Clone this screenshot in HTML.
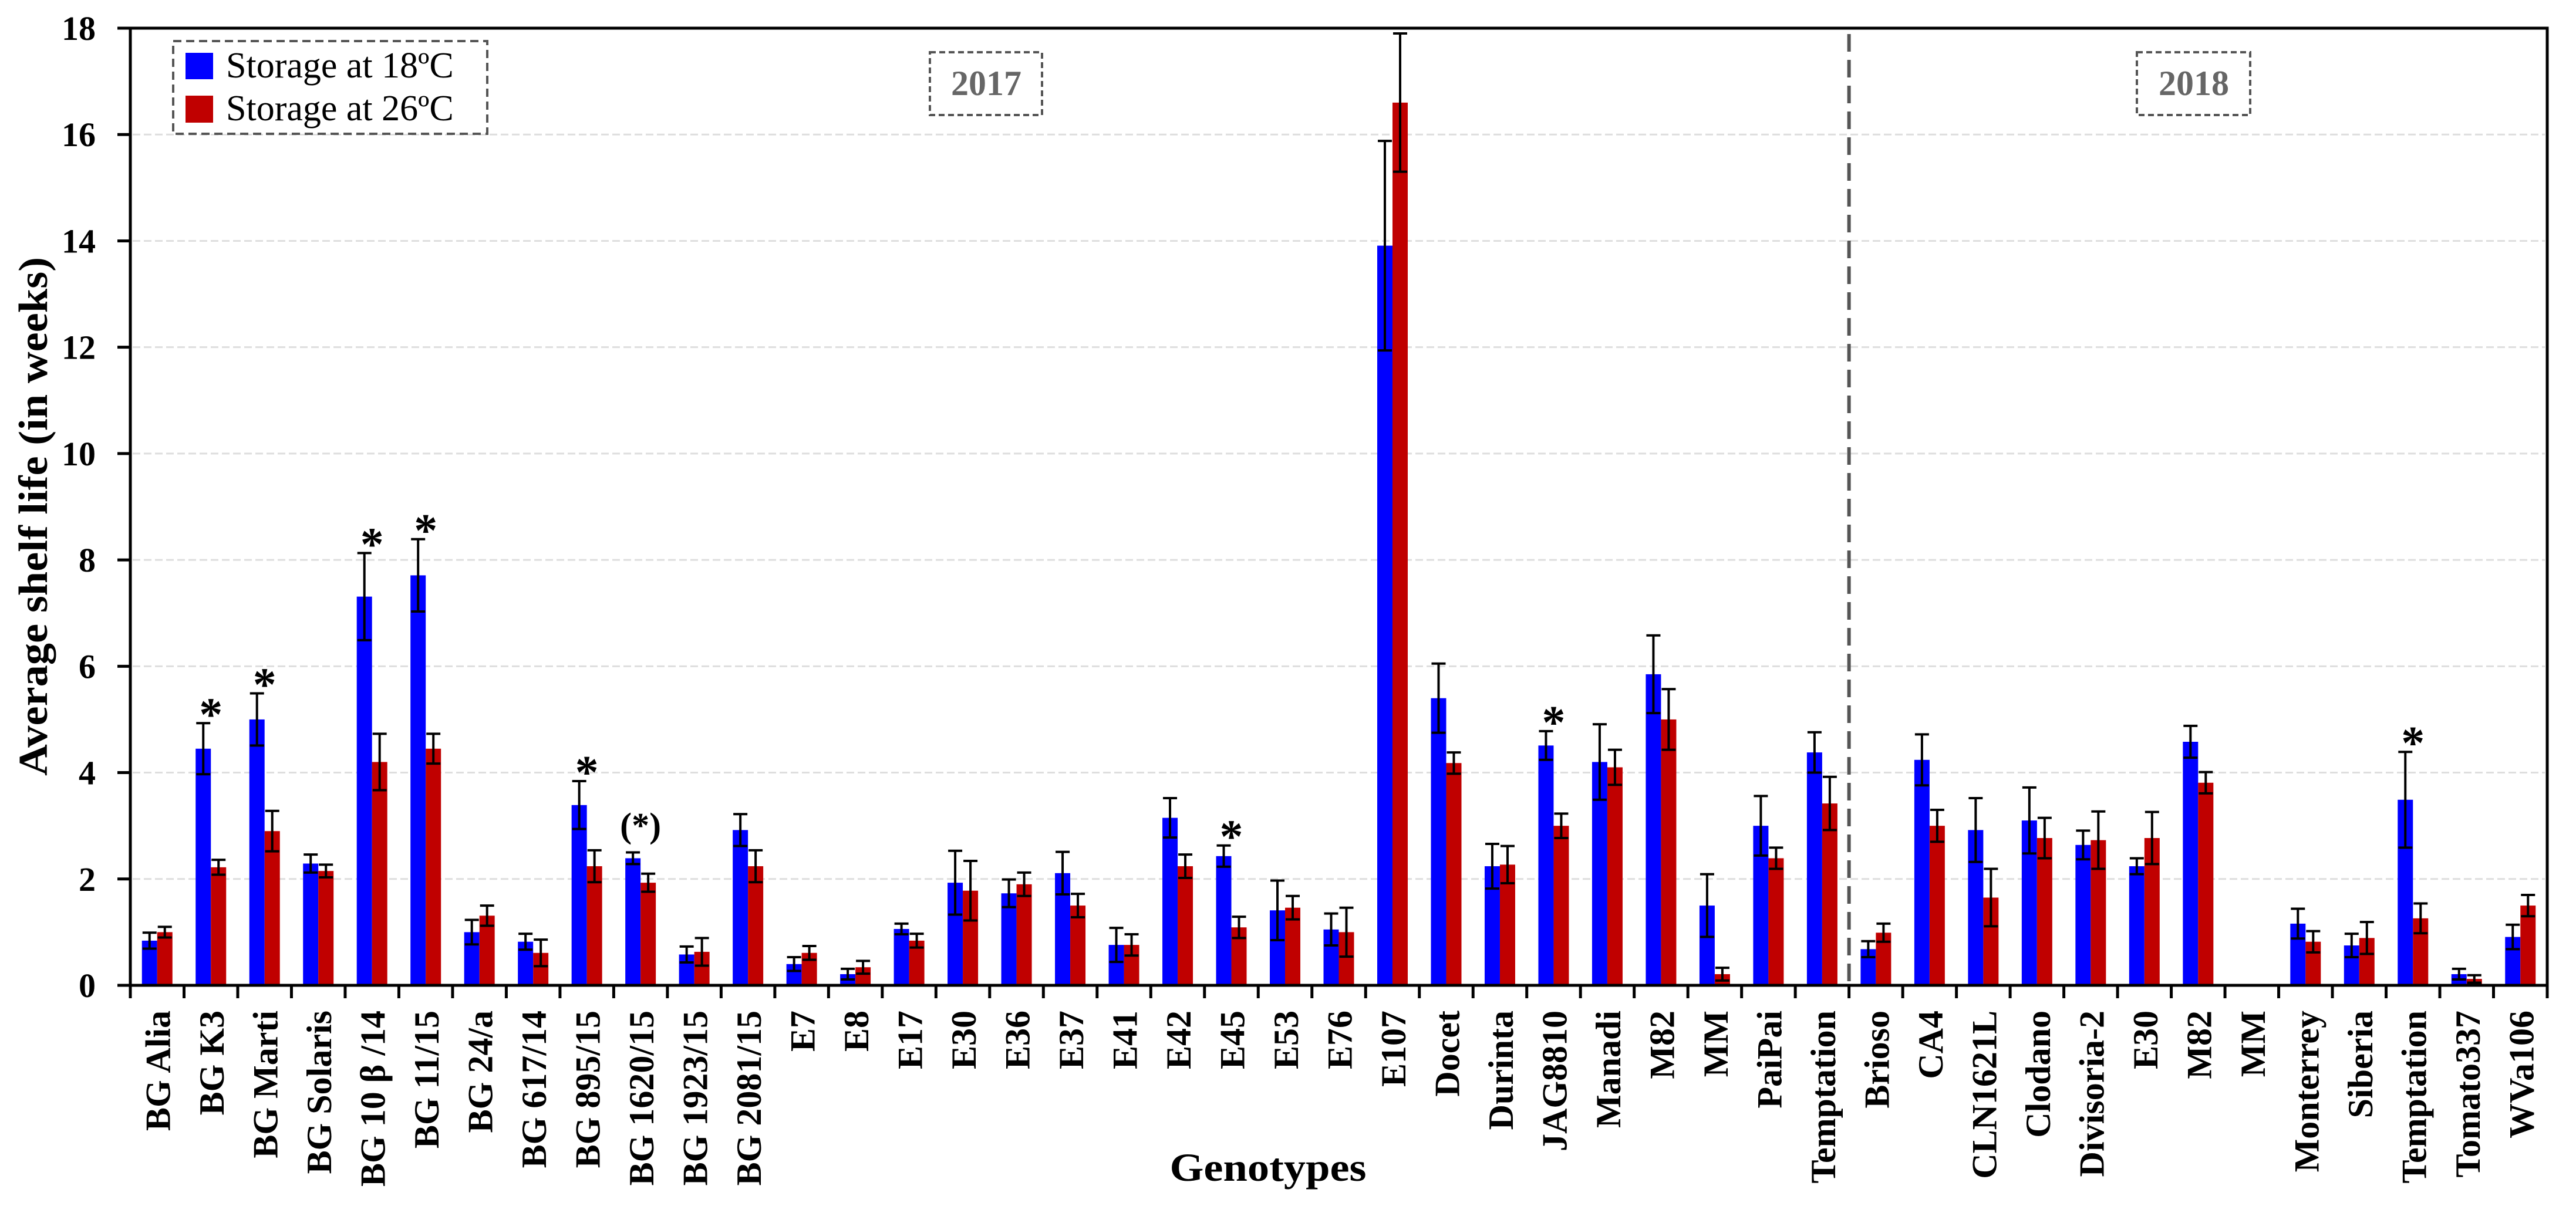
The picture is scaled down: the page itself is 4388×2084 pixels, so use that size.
<!DOCTYPE html>
<html><head><meta charset="utf-8"><title>Average shelf life chart</title>
<style>html,body{margin:0;padding:0;background:#fff}svg{display:block}</style></head>
<body>
<svg id="chart" width="4388" height="2084" viewBox="0 0 4388 2084" xmlns="http://www.w3.org/2000/svg" font-family="'Liberation Serif', serif">
<g id="grid"></g>
<g id="bars"></g>
<g id="errs"></g>
<g id="stars"></g>
<g id="axes"></g>
<g id="xlabels"></g>
<g id="ylabels"></g>
<text transform="translate(80,880) rotate(-90)" text-anchor="middle" font-size="70" font-weight="bold" textLength="884" lengthAdjust="spacingAndGlyphs">Average shelf life (in weeks)</text>
<text x="2160" y="2012" text-anchor="middle" font-size="68" font-weight="bold" textLength="335" lengthAdjust="spacingAndGlyphs">Genotypes</text>
<g>
<rect x="295" y="70" width="535" height="158" fill="#fff" stroke="#555" stroke-width="4" stroke-dasharray="14,8"/>
<rect x="316" y="90" width="47" height="45" fill="#0000ff"/>
<text x="385" y="132" font-size="62">Storage at 18ºC</text>
<rect x="316" y="163" width="47" height="46" fill="#c00000"/>
<text x="385" y="205" font-size="62">Storage at 26ºC</text>
</g>
<g>
<rect x="1584" y="89" width="191" height="107" fill="#fff" stroke="#555" stroke-width="4" stroke-dasharray="10,6"/>
<text x="1680" y="162" text-anchor="middle" font-size="60" font-weight="bold" fill="#666">2017</text>
</g>
<g>
<rect x="3640" y="89" width="193" height="107" fill="#fff" stroke="#555" stroke-width="4" stroke-dasharray="10,6"/>
<text x="3737" y="162" text-anchor="middle" font-size="60" font-weight="bold" fill="#666">2018</text>
</g>
</svg>
<script>
const categories = ["BG Alia","BG K3","BG Marti","BG Solaris","BG 10 β /14","BG 11/15","BG 24/a","BG 617/14","BG 895/15","BG 1620/15","BG 1923/15","BG 2081/15","E7","E8","E17","E30","E36","E37","E41","E42","E45","E53","E76","E107","Docet","Durinta","JAG8810","Manadi","M82","MM","PaiPai","Temptation","Brioso","CA4","CLN1621L","Clodano","Divisoria-2","E30","M82","MM","Monterrey","Siberia","Temptation","Tomato337","WVa106"];
const blue18 = [0.84,4.45,5.0,2.29,7.31,7.71,1.0,0.82,3.39,2.39,0.58,2.92,0.4,0.21,1.06,1.93,1.73,2.11,0.76,3.15,2.43,1.41,1.05,13.91,5.4,2.24,4.51,4.2,5.85,1.5,3.0,4.38,0.68,4.24,2.92,3.1,2.64,2.24,4.58,0,1.16,0.75,3.49,0.21,0.91];
const blueErr = [0.15,0.48,0.49,0.17,0.82,0.68,0.23,0.15,0.45,0.11,0.15,0.3,0.13,0.1,0.1,0.6,0.26,0.4,0.32,0.37,0.2,0.56,0.3,1.97,0.65,0.42,0.27,0.71,0.73,0.59,0.56,0.38,0.15,0.48,0.6,0.62,0.27,0.15,0.3,0,0.28,0.22,0.9,0.1,0.23];
const red26 = [1.0,2.22,2.9,2.15,4.2,4.45,1.31,0.61,2.24,1.93,0.63,2.24,0.61,0.34,0.84,1.78,1.9,1.5,0.76,2.24,1.09,1.46,1.0,16.6,4.18,2.27,3.0,4.1,5.0,0.21,2.39,3.42,0.99,3.0,1.65,2.77,2.73,2.77,3.81,0,0.82,0.89,1.26,0.12,1.5];
const redErr = [0.1,0.14,0.38,0.12,0.53,0.28,0.19,0.25,0.3,0.17,0.26,0.3,0.13,0.12,0.13,0.56,0.22,0.22,0.2,0.22,0.2,0.22,0.46,1.3,0.2,0.35,0.23,0.33,0.57,0.12,0.2,0.5,0.17,0.3,0.54,0.38,0.54,0.49,0.2,0,0.2,0.3,0.28,0.07,0.2];
const marks = {1:"*",2:"*",4:"*",5:"*",8:"*",9:"(*)",20:"*",26:"*",42:"*"};
const yTicks = [0,2,4,6,8,10,12,14,16,18];
const separatorIndex = 32;

const NS="http://www.w3.org/2000/svg";
const L=222,R=4339,T=48,B=1679,YMAX=18;
const bw=(R-L)/categories.length;
const yS=v=>B-(v/YMAX)*(B-T);
const xC=i=>L+(i+0.5)*bw;
function mk(tag,attrs,parent){const e=document.createElementNS(NS,tag);for(const k in attrs)e.setAttribute(k,attrs[k]);parent.appendChild(e);return e;}
const g=id=>document.getElementById(id);

yTicks.forEach(t=>{
  if(t>0&&t<YMAX){const ln=mk("line",{x1:L+4,x2:R-4,y1:yS(t),y2:yS(t),stroke:"#dedede","stroke-width":3,"stroke-dasharray":"13,6"},g("grid"));
  
  }
  const tk=mk("line",{x1:L-22,x2:L,y1:yS(t),y2:yS(t),stroke:"#000","stroke-width":5},g("axes"));
  
  
  const lb=mk("text",{x:163,y:yS(t)+20,"text-anchor":"end","font-size":58,"font-weight":"bold"},g("ylabels"));
  lb.textContent=t;
  
  
});

const barW=26;
categories.forEach((c,i)=>{
  const cx=xC(i);
  [[blue18,blueErr,"#0000ff",cx-barW],[red26,redErr,"#c00000",cx]].forEach(([vals,errs,col,x0],s)=>{
    const v=vals[i];
    if(v>0){
      const r=mk("rect",{x:x0,y:yS(v),width:barW,height:B-yS(v),fill:col},g("bars"));
      
      
    }
    const e=errs[i];
    if(e>0){
      const ex=x0+barW/2;
      const eg=mk("g",{stroke:"#000","stroke-width":4},g("errs"));
      
      
      mk("line",{x1:ex,x2:ex,y1:yS(v+e),y2:yS(Math.max(0,v-e))},eg);
      mk("line",{x1:ex-12,x2:ex+12,y1:yS(v+e),y2:yS(v+e)},eg);
      mk("line",{x1:ex-12,x2:ex+12,y1:yS(Math.max(0,v-e)),y2:yS(Math.max(0,v-e))},eg);
    }
  });
  if(marks[i]){
    const top=Math.max(blue18[i]+blueErr[i],red26[i]+redErr[i]);
    const st=mk("text",{x:cx,y:yS(top)-(marks[i]==="*"?-30:8)-18,"text-anchor":"middle","font-size":marks[i]==="*"?80:60,"font-weight":"bold"},g("stars"));
    st.textContent=marks[i];
    
    
  }
  const lb=mk("text",{transform:`translate(${cx+22},1722) rotate(-90)`,"text-anchor":"end","font-size":60,"font-weight":"bold"},g("xlabels"));
  lb.textContent=c;
  
  
});
for(let i=0;i<=categories.length;i++){
  const tk=mk("line",{x1:L+i*bw,x2:L+i*bw,y1:B,y2:B+22,stroke:"#000","stroke-width":5},g("axes"));
  
  
}
const frame=mk("path",{d:`M${L},${T} L${R},${T} L${R},${B} L${L},${B} Z`,fill:"none",stroke:"#000","stroke-width":5},g("axes"));


const sx=L+separatorIndex*bw;
const sep=mk("line",{x1:sx,x2:sx,y1:T+10,y2:B,stroke:"#555","stroke-width":6,"stroke-dasharray":"30,14"},g("axes"));


</script>
</body></html>
